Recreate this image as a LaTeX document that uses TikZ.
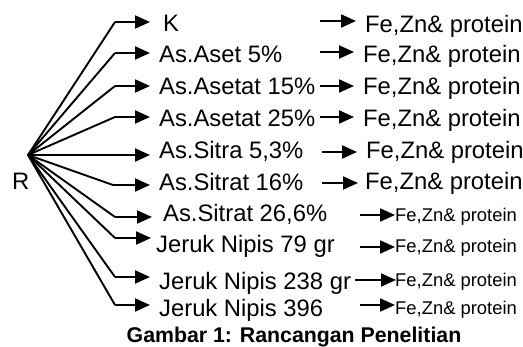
\documentclass[tikz,border=0pt]{standalone}
\usepackage{fontspec}
\setmainfont{Liberation Sans}
\usetikzlibrary{arrows.meta}
\begin{document}
\begin{tikzpicture}[x=1pt,y=-1pt,
  arr/.style={line width=2pt,-{Triangle[length=15pt,width=13pt]}},
  fan/.style={line width=1.9pt},
  bigtxt/.style={anchor=base west,inner sep=0pt,font=\fontsize{23.8}{28}\selectfont},
  smalltxt/.style={anchor=base west,inner sep=0pt,font=\fontsize{18.4}{22}\selectfont},
  captxt/.style={anchor=base,inner sep=0pt,font=\fontsize{21.3}{25}\selectfont\bfseries}]
\useasboundingbox (0,0) rectangle (523,347);
\coordinate (o) at (28,155);
\node[bigtxt] (R) at (12,190) {R};
\foreach \i/\ya/\bx/\tx/\lx/\lb/\lab/\rs/\re/\ry/\rx/\rb/\st in {
  1/22/115/150/163/32/K/320/356/21/365/33/bigtxt,
  2/53/115/150/159/63/As.Aset 5\%/320/354/52/363/63/bigtxt,
  3/86/115/150/159/95/As.Asetat 15\%/320/354/86/363/95/bigtxt,
  4/117/115/150/159/127/As.Asetat 25\%/320/354/117/363/127/bigtxt,
  5/155/115/150/159/159/As.Sitra 5{,}3\%/322/357/152/366/159/bigtxt,
  6/185/113/150/159/191/As.Sitrat 16\%/322/358/183/365/190/bigtxt,
  7/217/115/152/163/222/As.Sitrat 26{,}6\%/360/395/215/395/222/smalltxt,
  8/238/115/151/156/253/Jeruk Nipis 79 gr/360/395/247/395/253/smalltxt,
  9/277/115/150/159/290/Jeruk Nipis 238 gr/355/396/280/395/287/smalltxt,
  10/305/115/150/159/317/Jeruk Nipis 396/360/395/305/395/315/smalltxt}{
  \coordinate (b\i) at (\bx,\ya);
  \coordinate (a\i) at (\tx,\ya);
  \node[bigtxt] (t\i) at (\lx,\lb) {\lab};
  \draw[fan] (o) -- (b\i);
  \draw[arr] (b\i) -- (a\i);
  \coordinate (rs\i) at (\rs,\ry);
  \coordinate (re\i) at (\re,\ry);
  \draw[arr] (rs\i) -- (re\i);
  \node[\st] (f\i) at (\rx,\rb) {Fe,Zn\& protein};
}
\node[captxt] (caption) at (294,343) {Gambar 1: Rancangan Penelitian};
\end{tikzpicture}
\end{document}
